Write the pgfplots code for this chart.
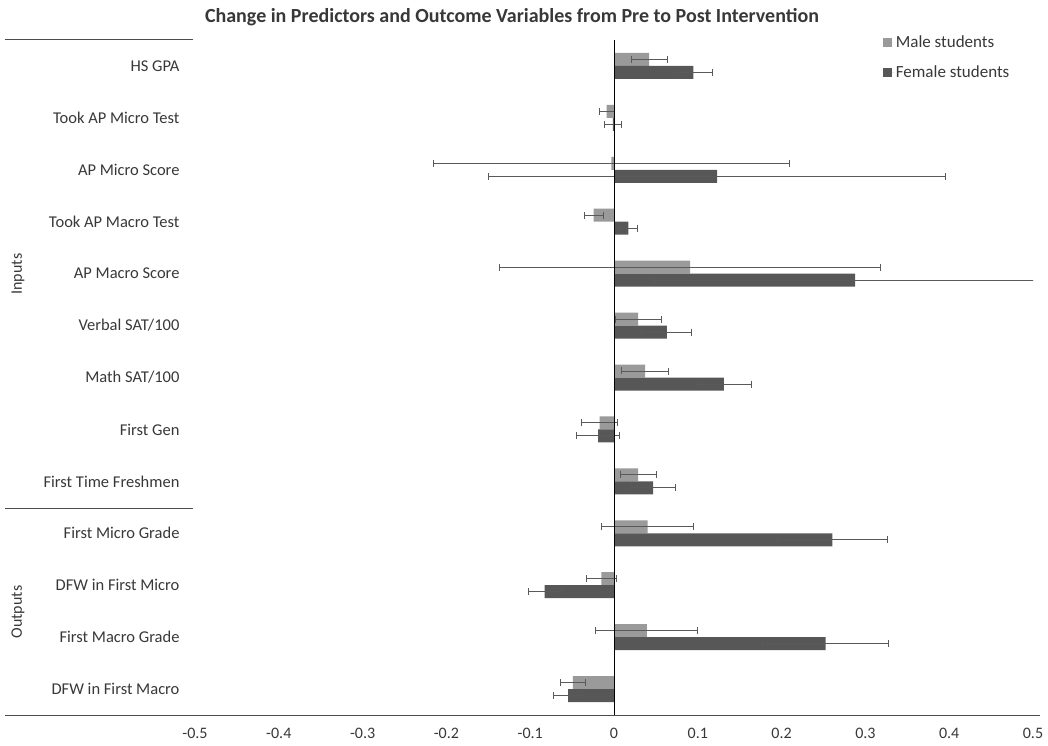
\documentclass[border=0pt]{standalone}
\usepackage{pgfplots}
\pgfplotsset{compat=1.18}
\usepackage{pgfplotstable}
\usepackage{fontspec}
\setmainfont{Carlito}
\definecolor{male}{HTML}{9A9A9A}
\definecolor{female}{HTML}{575757}
\definecolor{txt}{HTML}{383838}
\definecolor{errc}{HTML}{5A5A5A}
\pgfplotstableread{
y    m       me      f       fe
12   0.042   0.0215  0.0947  0.0227
11  -0.0087  0.009  -0.0014  0.010
10  -0.003   0.212   0.123   0.273
9   -0.0243  0.0115  0.017   0.011
8    0.0907  0.227   0.2876  0.24
7    0.0289  0.0273  0.063   0.030
6    0.037   0.028   0.131   0.033
5   -0.0172  0.021  -0.0189  0.026
4    0.0289  0.0217  0.0468  0.026
3    0.040   0.0548  0.2607  0.0654
2   -0.015   0.0184 -0.0828  0.0196
1    0.0391  0.061   0.2526  0.0755
0   -0.049   0.015  -0.0547  0.018
}\datatable
\begin{document}
\begin{tikzpicture}
\useasboundingbox (0,0) rectangle (1048pt,745pt);
\begin{axis}[
  at={(195pt,30pt)}, anchor=south west,
  scale only axis, width=838pt, height=675pt,
  xmin=-0.5, xmax=0.5, ymin=-0.5, ymax=12.5,
  xbar, bar width=13pt,
  axis line style={draw=none},
  major tick length=0pt,
  xtick={-0.5,-0.4,-0.3,-0.2,-0.1,0,0.1,0.2,0.3,0.4,0.5},
  xticklabels={-0.5,-0.4,-0.3,-0.2,-0.1,0,0.1,0.2,0.3,0.4,0.5},
  x tick label style={font=\fontsize{16}{18}\selectfont, text=txt, anchor=base, yshift=-23pt},
  ytick={0,1,2,3,4,5,6,7,8,9,10,11,12},
  yticklabels={DFW in First Macro, First Macro Grade, DFW in First Micro, First Micro Grade, First Time Freshmen, First Gen, Math SAT/100, Verbal SAT/100, AP Macro Score, Took AP Macro Test, AP Micro Score, Took AP Micro Test, HS GPA},
  y tick label style={font=\fontsize{16.5}{18}\selectfont, text=txt, anchor=east, xshift=-12pt},
  legend style={at={(rel axis cs:0.817,1.012)}, anchor=north west, draw=none, fill=none,
    font=\fontsize{17}{19}\selectfont, text=txt, row sep=12pt},
  legend cell align=left,
  legend image code/.code={\draw[#1,draw=none] (0pt,-4.5pt) rectangle (9pt,4.5pt); \path (0pt,0pt) -- (11pt,0pt);},
]
\addplot[fill=male, draw=none, bar shift=6.5pt,
  error bars/.cd, x dir=both, x explicit, error mark=|,
  error bar style={errc, line width=1pt},
  error mark options={errc, line width=1pt, mark size=3.5pt}]
  table[x=m, y=y, x error=me] {\datatable};
\addlegendentry{Male students}
\addplot[fill=female, draw=none, bar shift=-6.5pt,
  error bars/.cd, x dir=both, x explicit, error mark=|,
  error bar style={errc, line width=1pt},
  error mark options={errc, line width=1pt, mark size=3.5pt}]
  table[x=f, y=y, x error=fe] {\datatable};
\addlegendentry{Female students}
\draw[black, line width=1pt] (axis cs:0,-0.5) -- (axis cs:0,12.5);
\end{axis}
\draw[gray!60!black, line width=1pt] (5pt,30pt) -- (1040pt,30pt);
\draw[gray!60!black, line width=1pt] (5pt,705pt) -- (193pt,705pt);
\draw[gray!60!black, line width=1pt] (5pt,237pt) -- (193pt,237pt);
\node[rotate=90, text=txt, font=\fontsize{16}{18}\selectfont] at (18pt,471pt) {Inputs};
\node[rotate=90, text=txt, font=\fontsize{16}{18}\selectfont] at (18pt,133pt) {Outputs};
\node[text=txt, font=\bfseries\fontsize{20}{23}\selectfont] at (512pt,728pt) {Change in Predictors and Outcome Variables from Pre to Post Intervention};
\end{tikzpicture}
\end{document}
